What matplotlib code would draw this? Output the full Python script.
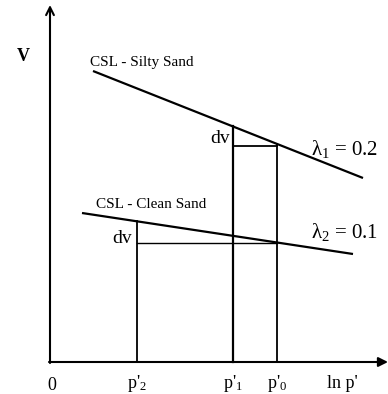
import numpy as np
import matplotlib.pyplot as plt

plt.rcParams['font.family'] = ['Liberation Serif', 'DejaVu Serif']
plt.rcParams['mathtext.fontset'] = 'custom'
plt.rcParams['mathtext.rm'] = 'Liberation Serif'
plt.rcParams['mathtext.it'] = 'Liberation Serif'
plt.rcParams['mathtext.bf'] = 'Liberation Serif:bold'

# critical state lines (ln p', v) end points
silty_x = [43, 313]
silty_v = [291, 184]
clean_x = [32, 303]
clean_v = [149, 108]

# stress levels on the ln p' axis
p_names = ["p'$_2$", "p'$_1$", "p'$_0$"]
p_vals = [87, 183, 227]
p2, p1, p0 = p_vals

lambda_labels = [r"$\mathrm{\lambda}_1$ = 0.2", r"$\mathrm{\lambda}_2$ = 0.1"]

fig = plt.figure(figsize=(3.88, 3.94), dpi=100)
ax = fig.add_axes([0, 0, 1, 1])
ax.set_xlim(-50, 338)
ax.set_ylim(-32, 362)
ax.axis('off')

# axes with arrows
ax.annotate('', xy=(338, 0), xytext=(-1, 0),
            arrowprops=dict(arrowstyle='-|>', lw=1.5, color='k',
                            mutation_scale=14, shrinkA=0, shrinkB=0))
ax.annotate('', xy=(0, 357), xytext=(0, -1),
            arrowprops=dict(arrowstyle='->', lw=1.5, color='k',
                            mutation_scale=14, shrinkA=0, shrinkB=0))

ax.plot(silty_x, silty_v, color='k', lw=1.6, solid_capstyle='butt')
ax.plot(clean_x, clean_v, color='k', lw=1.6, solid_capstyle='butt')

v_s1 = np.interp(p1, silty_x, silty_v)
v_s0 = np.interp(p0, silty_x, silty_v)
v_c2 = np.interp(p2, clean_x, clean_v)
v_c0 = np.interp(p0, clean_x, clean_v)

# verticals at p'2, p'1, p'0
ax.plot([p2, p2], [0, v_c2], color='k', lw=1.3)
ax.plot([p1, p1], [0, v_s1], color='k', lw=1.6)
ax.plot([p0, p0], [0, v_s0], color='k', lw=1.3)

# horizontals from p'0
ax.plot([p1, p0], [v_s0 - 2, v_s0 - 2], color='k', lw=1.3)
ax.plot([p2, p0], [v_c0, v_c0], color='k', lw=1.0)

ax.text(-27, 306, 'V', fontsize=13, fontweight='bold', ha='center', va='center')
ax.text(40, 300, 'CSL - Silty Sand', fontsize=11, ha='left', va='center')
ax.text(46, 158, 'CSL - Clean Sand', fontsize=11, ha='left', va='center')
ax.text(p1 - 3, 224, 'dv', fontsize=14, ha='right', va='center')
ax.text(p2 - 5, 124, 'dv', fontsize=14, ha='right', va='center')
ax.text(261, 213, lambda_labels[0], fontsize=15, ha='left', va='center')
ax.text(261, 130, lambda_labels[1], fontsize=15, ha='left', va='center')

ax.text(2, -23, '0', fontsize=13, ha='center', va='center')
for name, px in zip(p_names, p_vals):
    ax.text(px, -22, name, fontsize=13, ha='center', va='center')
ax.text(292, -22, "ln p'", fontsize=13, ha='center', va='center')

fig.savefig('out.png', dpi=100)
